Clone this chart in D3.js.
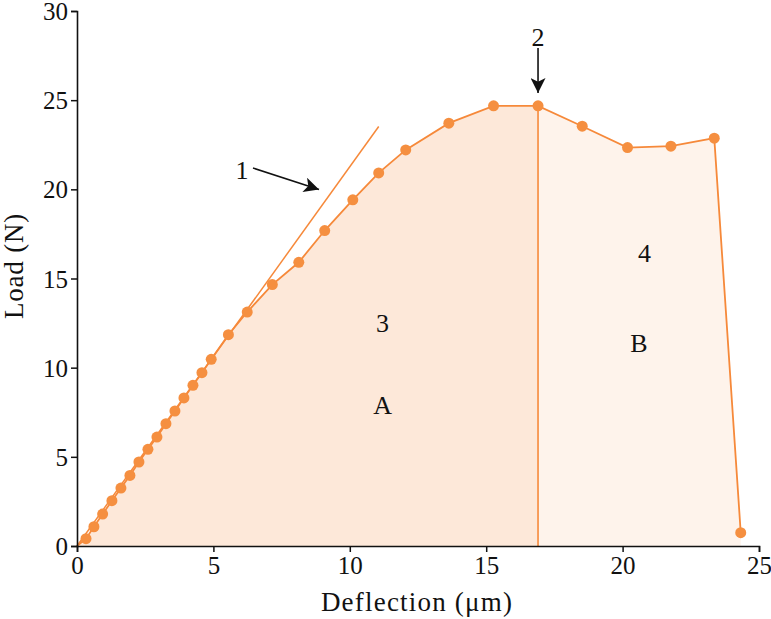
<!DOCTYPE html>
<html>
<head>
<meta charset="utf-8">
<script src="https://cdn.jsdelivr.net/npm/d3@7"></script>
<style>
  body { margin: 0; background: #fff; }
</style>
</head>
<body>
<div id="chart"></div>
<script>
// data
var deflection = [0, 0.33, 0.62, 0.94, 1.28, 1.61, 1.94, 2.27, 2.60, 2.93, 3.26, 3.59, 3.92, 4.25, 4.58, 4.92,
  5.55, 6.24, 7.16, 8.13, 9.08, 10.11, 11.06, 12.05, 13.63, 15.27, 16.90, 18.52, 20.18, 21.77, 23.36, 24.33];
var load = [0, 0.41, 1.08, 1.79, 2.54, 3.25, 3.96, 4.71, 5.42, 6.11, 6.86, 7.57, 8.30, 9.01, 9.72, 10.47,
  11.85, 13.12, 14.66, 15.91, 17.69, 19.41, 20.92, 22.21, 23.71, 24.68, 24.68, 23.54, 22.34, 22.42, 22.87, 0.75];
var tangentX = [0, 11.06];
var tangentY = [0, 23.52];
var splitX = 16.90;
var xTicks = [0, 5, 10, 15, 20, 25];
var yTicks = [0, 5, 10, 15, 20, 25, 30];
var regionLabels = [
  { t: "3", x: 11.2, y: 12.0 },
  { t: "A", x: 11.2, y: 7.4 },
  { t: "4", x: 20.8, y: 15.9 },
  { t: "B", x: 20.6, y: 10.9 }
];

var FONT = "'Liberation Serif', 'Times New Roman', serif";
var W = 771, H = 619;
var svg = d3.select("#chart").append("svg")
  .attr("width", W).attr("height", H);

var x = d3.scaleLinear().domain([0, 25]).range([77, 759]);
var y = d3.scaleLinear().domain([0, 30]).range([546, 11]);

var pts = deflection.map(function(d, i) { return { x: d, y: load[i] }; });
var ptsA = pts.filter(function(d) { return d.x <= splitX; });
var ptsB = pts.filter(function(d) { return d.x >= splitX; });

var area = d3.area()
  .x(function(d) { return x(d.x); })
  .y0(y(0))
  .y1(function(d) { return y(d.y); });

svg.append("path").datum(ptsA).attr("d", area).attr("fill", "#fde8d9");
svg.append("path").datum(ptsB).attr("d", area).attr("fill", "#fef3eb");

var orange = "#f6893a";

// vertical divider at the peak
svg.append("line")
  .attr("x1", x(splitX)).attr("x2", x(splitX))
  .attr("y1", y(24.68)).attr("y2", y(0))
  .attr("stroke", orange).attr("stroke-width", 1.6);

// tangent line
svg.append("line")
  .attr("x1", x(tangentX[0])).attr("y1", y(tangentY[0]))
  .attr("x2", x(tangentX[1])).attr("y2", y(tangentY[1]))
  .attr("stroke", orange).attr("stroke-width", 1.5);

var line = d3.line()
  .x(function(d) { return x(d.x); })
  .y(function(d) { return y(d.y); });

svg.append("path").datum(pts)
  .attr("d", line)
  .attr("fill", "none")
  .attr("stroke", orange)
  .attr("stroke-width", 1.8);

svg.append("g").selectAll("circle")
  .data(pts.slice(1))
  .enter().append("circle")
  .attr("cx", function(d) { return x(d.x); })
  .attr("cy", function(d) { return y(d.y); })
  .attr("r", 5.5)
  .attr("fill", "#f58f40");

// axes
var xAxis = svg.append("g")
  .attr("transform", "translate(0," + y(0) + ")")
  .call(d3.axisBottom(x).tickValues(xTicks).tickSize(6).tickPadding(4));
var yAxis = svg.append("g")
  .attr("transform", "translate(" + x(0) + ",0)")
  .call(d3.axisLeft(y).tickValues(yTicks).tickSize(6).tickPadding(3));

[xAxis, yAxis].forEach(function(g) {
  g.select(".domain").attr("stroke", "#111").attr("stroke-width", 1.6);
  g.selectAll(".tick line").attr("stroke", "#111").attr("stroke-width", 1.5);
  g.selectAll(".tick text")
    .style("font-family", FONT)
    .style("font-size", "25px")
    .attr("fill", "#111");
});
yAxis.selectAll(".tick text").attr("dy", "0.34em");

svg.append("text")
  .attr("x", 417).attr("y", 611)
  .attr("text-anchor", "middle")
  .style("font-family", FONT)
  .style("font-size", "27px")
  .style("letter-spacing", "1.2px")
  .attr("fill", "#111")
  .text("Deflection (μm)");

svg.append("text")
  .attr("transform", "translate(23,266) rotate(-90)")
  .attr("text-anchor", "middle")
  .style("font-family", FONT)
  .style("font-size", "27px")
  .style("letter-spacing", "0.8px")
  .attr("fill", "#111")
  .text("Load (N)");

// region labels
svg.append("g").selectAll("text")
  .data(regionLabels)
  .enter().append("text")
  .attr("x", function(d) { return x(d.x); })
  .attr("y", function(d) { return y(d.y); })
  .attr("text-anchor", "middle")
  .style("font-family", FONT)
  .style("font-size", "26px")
  .attr("fill", "#111")
  .text(function(d) { return d.t; });

// arrows
svg.append("defs").append("marker")
  .attr("id", "head")
  .attr("viewBox", "0 0 10 10")
  .attr("refX", 10).attr("refY", 5)
  .attr("markerWidth", 19).attr("markerHeight", 15)
  .attr("markerUnits", "userSpaceOnUse")
  .attr("orient", "auto")
  .append("path").attr("d", "M0,0 L10,5 L0,10 L2.5,5 Z").attr("fill", "#111");

svg.append("line")
  .attr("x1", 253).attr("y1", 168).attr("x2", 319).attr("y2", 189.5)
  .attr("stroke", "#111").attr("stroke-width", 1.6)
  .attr("marker-end", "url(#head)");
svg.append("text").attr("x", 242).attr("y", 179)
  .attr("text-anchor", "middle")
  .style("font-family", FONT).style("font-size", "26px")
  .attr("fill", "#111").text("1");

svg.append("line")
  .attr("x1", x(splitX)).attr("y1", 48).attr("x2", x(splitX)).attr("y2", 93)
  .attr("stroke", "#111").attr("stroke-width", 1.6)
  .attr("marker-end", "url(#head)");
svg.append("text").attr("x", x(splitX)).attr("y", 46)
  .attr("text-anchor", "middle")
  .style("font-family", FONT).style("font-size", "26px")
  .attr("fill", "#111").text("2");
</script>
</body>
</html>
